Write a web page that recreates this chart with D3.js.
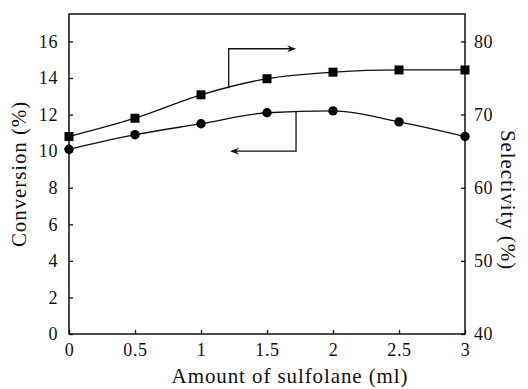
<!DOCTYPE html>
<html>
<head>
<meta charset="utf-8">
<script src="https://cdn.jsdelivr.net/npm/d3@7"></script>
<style>
  body { margin: 0; background: #fff; }
  svg { display: block; font-family: "Liberation Serif", "Times New Roman", serif; }
</style>
</head>
<body>
<div id="chart"></div>
<script>
// values
const sulfolane = [0, 0.5, 1, 1.5, 2, 2.5, 3];
const conversion = [10.1, 10.9, 11.5, 12.1, 12.2, 11.6, 10.8];
const selectivity = [67.0, 69.5, 72.7, 74.9, 75.8, 76.1, 76.1];
const xTicks = [0, 0.5, 1, 1.5, 2, 2.5, 3];
const leftTicks = [0, 2, 4, 6, 8, 10, 12, 14, 16];
const rightTicks = [40, 50, 60, 70, 80];

const width = 528, height = 389;
const margin = {top: 14, right: 63, bottom: 55, left: 69};

const svg = d3.select("#chart").append("svg")
  .attr("width", width).attr("height", height);

const x = d3.scaleLinear().domain([0, 3]).range([margin.left, width - margin.right]);
const yL = d3.scaleLinear().domain([0, 17.5]).range([height - margin.bottom, margin.top]);
const yR = d3.scaleLinear().domain([40, 83.75]).range([height - margin.bottom, margin.top]);

const tickFont = "18px";

// frame
svg.append("rect")
  .attr("x", margin.left).attr("y", margin.top)
  .attr("width", width - margin.left - margin.right)
  .attr("height", height - margin.top - margin.bottom)
  .attr("fill", "none").attr("stroke", "#111").attr("stroke-width", 1.5);

function styleAxis(g) {
  g.attr("font-family", null);
  g.select(".domain").remove();
  g.selectAll(".tick line").attr("stroke", "#111").attr("stroke-width", 1.3);
  g.selectAll(".tick text").attr("fill", "#111").style("font-size", tickFont)
    .style("letter-spacing", "0.6px");
}

svg.append("g")
  .attr("transform", `translate(0,${height - margin.bottom})`)
  .call(d3.axisBottom(x).tickValues(xTicks).tickFormat(d3.format("")).tickSizeInner(-4).tickPadding(9))
  .call(styleAxis);

svg.append("g")
  .attr("transform", `translate(${margin.left},0)`)
  .call(d3.axisLeft(yL).tickValues(leftTicks).tickSizeInner(-4).tickPadding(11))
  .call(styleAxis);

svg.append("g")
  .attr("transform", `translate(${width - margin.right},0)`)
  .call(d3.axisRight(yR).tickValues(rightTicks).tickSizeInner(-4).tickPadding(9))
  .call(styleAxis);

// axis titles
const titleStyle = t => t.style("font-size", "21px").style("letter-spacing", "0.9px")
  .attr("fill", "#111").attr("text-anchor", "middle");

svg.append("text")
  .attr("x", 290).attr("y", 383)
  .call(titleStyle)
  .text("Amount of sulfolane (ml)");

svg.append("text")
  .attr("transform", `translate(26,${(margin.top + height - margin.bottom) / 2}) rotate(-90)`)
  .call(titleStyle)
  .text("Conversion (%)");

svg.append("text")
  .attr("transform", `translate(501,${(margin.top + height - margin.bottom) / 2 + 26}) rotate(90)`)
  .call(titleStyle)
  .text("Selectivity (%)");

// lines
const convLine = d3.line().x((d, i) => x(sulfolane[i])).y(d => yL(d)).curve(d3.curveMonotoneX);
const selLine = d3.line().x((d, i) => x(sulfolane[i])).y(d => yR(d)).curve(d3.curveMonotoneX);

svg.append("path").attr("d", selLine(selectivity))
  .attr("fill", "none").attr("stroke", "#111").attr("stroke-width", 1.3);
svg.append("path").attr("d", convLine(conversion))
  .attr("fill", "none").attr("stroke", "#111").attr("stroke-width", 1.3);

svg.append("g").selectAll("rect").data(selectivity).join("rect")
  .attr("x", (d, i) => x(sulfolane[i]) - 4.5)
  .attr("y", d => yR(d) - 4.5)
  .attr("width", 9).attr("height", 9)
  .attr("fill", "#000");

svg.append("g").selectAll("circle").data(conversion).join("circle")
  .attr("cx", (d, i) => x(sulfolane[i]))
  .attr("cy", d => yL(d))
  .attr("r", 4.7)
  .attr("fill", "#000");

// pointer arrows: which curve belongs to which axis
function arrowHead(tx, ty, dir) {
  const p = d3.path();
  p.moveTo(tx, ty);
  p.lineTo(tx - dir * 9, ty - 3.5);
  p.lineTo(tx - dir * 6, ty);
  p.lineTo(tx - dir * 9, ty + 3.5);
  p.closePath();
  svg.append("path").attr("d", p.toString()).attr("fill", "#111");
}

const selIdx = 1.21, selTop = 15.6, selEnd = 1.72;
svg.append("path")
  .attr("d", d3.line()([
    [x(selIdx), yR(73.6)], [x(selIdx), yL(selTop)], [x(selEnd) - 5, yL(selTop)]
  ]))
  .attr("fill", "none").attr("stroke", "#111").attr("stroke-width", 1.3);
arrowHead(x(selEnd), yL(selTop), 1);

const convX = 1.72, convBottom = 10.0, convEnd = 1.22;
svg.append("path")
  .attr("d", d3.line()([
    [x(convX), yL(12.2)], [x(convX), yL(convBottom)], [x(convEnd) + 5, yL(convBottom)]
  ]))
  .attr("fill", "none").attr("stroke", "#111").attr("stroke-width", 1.3);
arrowHead(x(convEnd), yL(convBottom), -1);
</script>
</body>
</html>
